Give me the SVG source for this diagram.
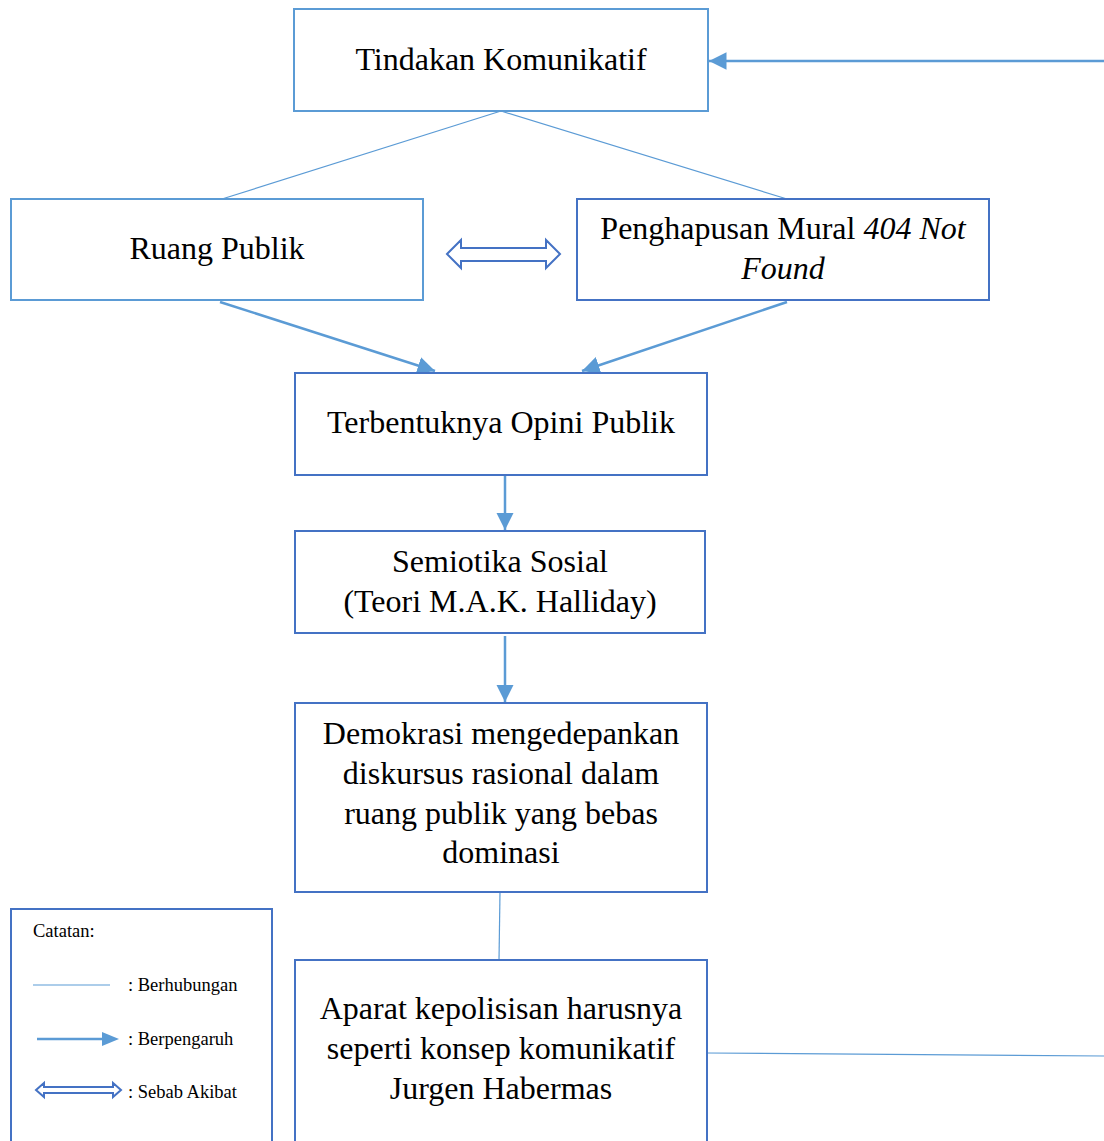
<svg xmlns="http://www.w3.org/2000/svg" width="1104" height="1141" viewBox="0 0 1104 1141">
<style>
.t{font-family:"Liberation Serif","Times New Roman",serif;font-size:32px;fill:#000;text-anchor:middle}
.s{font-family:"Liberation Serif","Times New Roman",serif;font-size:18.5px;fill:#000}
.bl{fill:#fff;stroke:#5B9BD5;stroke-width:2}
.bd{fill:#fff;stroke:#4472C4;stroke-width:2}
.thin{stroke:#5B9BD5;stroke-width:1.2;fill:none}
.arr{stroke:#5B9BD5;stroke-width:2.5;fill:none}
.dbl{fill:#fff;stroke:#4472C4;stroke-width:2;stroke-linejoin:miter}
</style>
<defs>
<marker id="ah" viewBox="0 0 10 10" refX="10" refY="5" markerWidth="7" markerHeight="7" orient="auto" markerUnits="strokeWidth">
<path d="M0,0 L10,5 L0,10 z" fill="#5B9BD5"/>
</marker>
</defs>
<rect width="1104" height="1141" fill="#fff"/>
<g id="connectors">
<line class="thin" x1="501" y1="111" x2="222" y2="199"/>
<line class="thin" x1="501" y1="111" x2="787" y2="199"/>
<line class="arr" x1="220" y1="302" x2="435" y2="371" marker-end="url(#ah)"/>
<line class="arr" x1="787" y1="302" x2="582" y2="371" marker-end="url(#ah)"/>
<line class="arr" x1="505" y1="476" x2="505" y2="530" marker-end="url(#ah)"/>
<line class="arr" x1="505" y1="636" x2="505" y2="702" marker-end="url(#ah)"/>
<line class="thin" x1="500" y1="892" x2="499" y2="960"/>
<line class="arr" x1="1104" y1="61" x2="709" y2="61" marker-end="url(#ah)"/>
<line class="thin" x1="707" y1="1053" x2="1104" y2="1056" stroke-width="1.8"/>
<path class="dbl" d="M447,254 L461,240 L461,248 L546,248 L546,240 L560,254 L546,268 L546,261 L461,261 L461,268 Z"/>
</g>
<g id="n1"><rect class="bl" x="294" y="9" width="414" height="102"/><text class="t" x="501" y="70">Tindakan Komunikatif</text></g>
<g id="n2"><rect class="bl" x="11" y="199" width="412" height="101"/><text class="t" x="217" y="259">Ruang Publik</text></g>
<g id="n3"><rect class="bd" x="577" y="199" width="412" height="101"/><text class="t" x="783" y="239">Penghapusan Mural <tspan font-style="italic">404 Not</tspan></text><text class="t" x="783" y="279" font-style="italic">Found</text></g>
<g id="n4"><rect class="bd" x="295" y="373" width="412" height="102"/><text class="t" x="501" y="433">Terbentuknya Opini Publik</text></g>
<g id="n5"><rect class="bd" x="295" y="531" width="410" height="102"/><text class="t" x="500" y="572">Semiotika Sosial</text><text class="t" x="500" y="612">(Teori M.A.K. Halliday)</text></g>
<g id="n6"><rect class="bd" x="295" y="703" width="412" height="189"/><text class="t" x="501" y="744">Demokrasi mengedepankan</text><text class="t" x="501" y="784">diskursus rasional dalam</text><text class="t" x="501" y="824">ruang publik yang bebas</text><text class="t" x="501" y="863">dominasi</text></g>
<g id="n7"><rect class="bd" x="295" y="960" width="412" height="190"/><text class="t" x="501" y="1019">Aparat kepolisisan harusnya</text><text class="t" x="501" y="1059">seperti konsep komunikatif</text><text class="t" x="501" y="1099">Jurgen Habermas</text></g>
<g id="legend">
<rect class="bd" x="11" y="909" width="261" height="245"/>
<text class="s" x="33" y="937" font-size="17">Catatan:</text>
<line x1="33" y1="985" x2="110" y2="985" stroke="#5B9BD5" stroke-width="1.2"/>
<text class="s" x="128" y="991">: Berhubungan</text>
<line x1="37" y1="1039" x2="104" y2="1039" stroke="#5B9BD5" stroke-width="2.5"/>
<path d="M102,1032 L119,1039 L102,1046 Z" fill="#5B9BD5"/>
<text class="s" x="128" y="1045">: Berpengaruh</text>
<path class="dbl" d="M36,1090 L44,1083 L44,1087 L113,1087 L113,1083 L121,1090 L113,1097 L113,1093 L44,1093 L44,1097 Z" stroke-width="1.8"/>
<text class="s" x="128" y="1098">: Sebab Akibat</text>
</g>
</svg>
